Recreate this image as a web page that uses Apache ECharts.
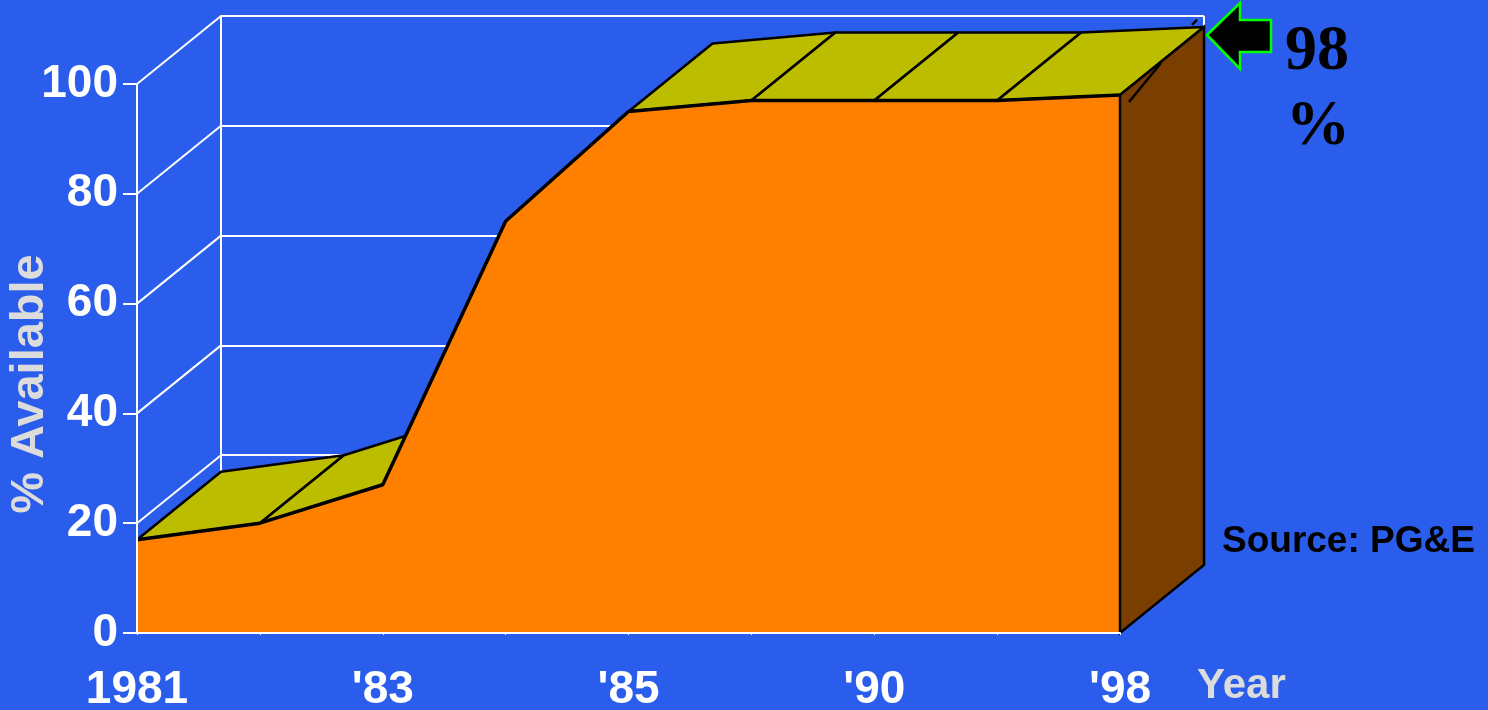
<!DOCTYPE html>
<html>
<head>
<meta charset="utf-8">
<title>% Available</title>
<script src="https://cdn.jsdelivr.net/npm/echarts@6/dist/echarts.min.js"></script>
<style>
  html, body { margin: 0; padding: 0; background: #2A5DEB; }
  #chart { width: 1488px; height: 710px; }
</style>
</head>
<body>
<div id="chart"></div>
<script>
// Year tick labels along the front edge (one per data point, blanks unlabeled)
const xTickLabels = ["1981", "", "'83", "", "'85", "", "'90", "", "'98"];
// Percent available at each point
const availability = [17, 20, 27, 75, 95, 97, 97, 97, 98];
// Value-axis ticks
const yTicks = [0, 20, 40, 60, 80, 100];
const yAxisName = "% Available";
const xAxisName = "Year";
const sourceNote = "Source: PG&E";

// Screen-space depth of the pseudo-3D box (front face -> back wall)
const DEPTH_X = 84;
const DEPTH_Y = -68;

const BG = '#2A5DEB';
const ORANGE = '#FF8000';
const OLIVE = '#BDBD00';
const BROWN = '#7A3E00';
const LIGHT = '#DCDCDC';
const SANS = 'Arial, "Liberation Sans", Helvetica, sans-serif';
const SERIF = '"Times New Roman", "Liberation Serif", Times, serif';

const lastIndex = availability.length - 1;
const lastValue = availability[lastIndex];

function back(p) { return [p[0] + DEPTH_X, p[1] + DEPTH_Y]; }

const points = availability.map((v, i) => [i, v]);
const segments = [];
for (let i = 0; i < availability.length - 1; i++) {
  segments.push([i, availability[i], i + 1, availability[i + 1]]);
}

const chart = echarts.init(document.getElementById('chart'), null, { renderer: 'canvas' });

const option = {
  backgroundColor: BG,
  animation: false,
  grid: [
    // front face
    { left: 137, right: 368, top: 84, bottom: 77, containLabel: false, outerBoundsMode: 'none' },
    // back wall, shifted by the depth vector
    {
      left: 137 + DEPTH_X, right: 368 - DEPTH_X, top: 84 + DEPTH_Y, bottom: 77 - DEPTH_Y,
      containLabel: false, outerBoundsMode: 'none'
    }
  ],
  xAxis: [
    {
      gridIndex: 0, type: 'value', min: 0, max: lastIndex, interval: 1, z: 10,
      axisLine: { show: true, lineStyle: { color: '#FFFFFF', width: 2 } },
      axisTick: { show: true, length: 2, lineStyle: { color: '#FFFFFF', width: 1 } },
      splitLine: { show: false },
      axisLabel: {
        margin: 34,
        color: '#FFFFFF', fontSize: 46, fontWeight: 'bold', fontFamily: SANS,
        formatter: (v) => xTickLabels[v] || ''
      }
    },
    {
      gridIndex: 1, type: 'value', min: 0, max: lastIndex, interval: lastIndex,
      axisLine: { show: false }, axisTick: { show: false }, axisLabel: { show: false },
      splitLine: { show: true, lineStyle: { color: '#FFFFFF', width: 2 } }
    }
  ],
  yAxis: [
    {
      gridIndex: 0, type: 'value', min: 0, max: 100, interval: 20, z: 10,
      axisLine: { show: true, lineStyle: { color: '#FFFFFF', width: 2 } },
      axisTick: { show: true, length: 14, lineStyle: { color: '#FFFFFF', width: 2 } },
      splitLine: { show: false },
      axisLabel: {
        margin: 19,
        color: '#FFFFFF', fontSize: 46, fontWeight: 'bold', fontFamily: SANS,
        formatter: (v) => (yTicks.indexOf(v) >= 0 ? String(v) : '')
      }
    },
    {
      gridIndex: 1, type: 'value', min: 0, max: 100, interval: 20,
      axisLine: { show: true, lineStyle: { color: '#FFFFFF', width: 2 } },
      axisTick: { show: false }, axisLabel: { show: false },
      splitLine: { show: true, lineStyle: { color: '#FFFFFF', width: 2 } }
    }
  ],
  series: [
    // side-wall grid lines joining front ticks to the back wall
    {
      type: 'custom', xAxisIndex: 0, yAxisIndex: 0, z: 1, clip: false, silent: true,
      data: yTicks.map((v) => [0, v]),
      renderItem: (params, api) => {
        const p = api.coord([api.value(0), api.value(1)]);
        const q = back(p);
        return {
          type: 'line',
          shape: { x1: p[0], y1: p[1], x2: q[0], y2: q[1] },
          style: { stroke: '#FFFFFF', lineWidth: 2 }
        };
      }
    },
    // top surface of the ribbon, one facet per segment
    {
      type: 'custom', xAxisIndex: 0, yAxisIndex: 0, z: 2, clip: false, silent: true,
      data: segments,
      renderItem: (params, api) => {
        const a = api.coord([api.value(0), api.value(1)]);
        const b = api.coord([api.value(2), api.value(3)]);
        const sx = b[0] - a[0], sy = b[1] - a[1];
        // facets that tilt away from the viewer stay hidden behind the front face
        if (sx * DEPTH_Y - sy * DEPTH_X >= 0) return null;
        const c = back(b), d = back(a);
        return {
          type: 'polygon',
          shape: { points: [a, b, c, d] },
          style: { fill: OLIVE, stroke: '#000000', lineWidth: 2.5, lineJoin: 'round' }
        };
      }
    },
    // front face
    {
      type: 'line', xAxisIndex: 0, yAxisIndex: 0, z: 3, silent: true,
      data: points,
      symbol: 'none',
      lineStyle: { color: '#000000', width: 3.5 },
      areaStyle: { color: ORANGE, opacity: 1 }
    },
    // right end face plus the callout arrow at the final value
    {
      type: 'custom', xAxisIndex: 0, yAxisIndex: 0, z: 4, clip: false, silent: true,
      data: [[lastIndex, lastValue]],
      renderItem: (params, api) => {
        const top = api.coord([api.value(0), api.value(1)]);
        const base = api.coord([api.value(0), 0]);
        const topBack = back(top), baseBack = back(base);
        const tx = topBack[0] + 3, ty = topBack[1] + 8;
        return {
          type: 'group',
          children: [
            {
              type: 'polygon',
              shape: { points: [top, topBack, baseBack, base] },
              style: { fill: BROWN, stroke: '#000000', lineWidth: 2.5 }
            },
            {
              type: 'line',
              shape: { x1: top[0] + 9, y1: top[1] + 7, x2: top[0] + 41, y2: top[1] - 32 },
              style: { stroke: '#000000', lineWidth: 2.5 }
            },
            {
              type: 'line',
              shape: { x1: top[0] + 72, y1: top[1] - 70, x2: top[0] + 77, y2: top[1] - 75 },
              style: { stroke: '#000000', lineWidth: 2.5 }
            },
            {
              type: 'polygon',
              shape: {
                points: [
                  [tx, ty], [tx + 33, ty - 32], [tx + 33, ty - 15], [tx + 64, ty - 15],
                  [tx + 64, ty + 17], [tx + 33, ty + 17], [tx + 33, ty + 34]
                ]
              },
              style: { fill: '#000000', stroke: '#00FF00', lineWidth: 2.5 }
            }
          ]
        };
      }
    }
  ],
  graphic: [
    {
      type: 'text', x: 30, y: 384, rotation: Math.PI / 2, silent: true,
      style: {
        text: yAxisName, fill: LIGHT, font: 'bold 47px ' + SANS,
        textAlign: 'center', textVerticalAlign: 'middle'
      }
    },
    {
      type: 'text', x: 1197, y: 686, silent: true,
      style: {
        text: xAxisName, fill: LIGHT, font: 'bold 42px ' + SANS,
        textAlign: 'left', textVerticalAlign: 'middle'
      }
    },
    {
      type: 'text', x: 1222, y: 542, silent: true,
      style: {
        text: sourceNote, fill: '#000000', font: 'bold 37px ' + SANS,
        textAlign: 'left', textVerticalAlign: 'middle'
      }
    },
    {
      type: 'text', x: 1317, y: 52, silent: true,
      style: {
        text: String(lastValue), fill: '#000000', font: 'bold 64px ' + SERIF,
        textAlign: 'center', textVerticalAlign: 'middle'
      }
    },
    {
      type: 'text', x: 1318, y: 127, silent: true,
      style: {
        text: '%', fill: '#000000', font: 'bold 64px ' + SERIF,
        textAlign: 'center', textVerticalAlign: 'middle'
      }
    }
  ]
};

chart.setOption(option);
</script>
</body>
</html>
